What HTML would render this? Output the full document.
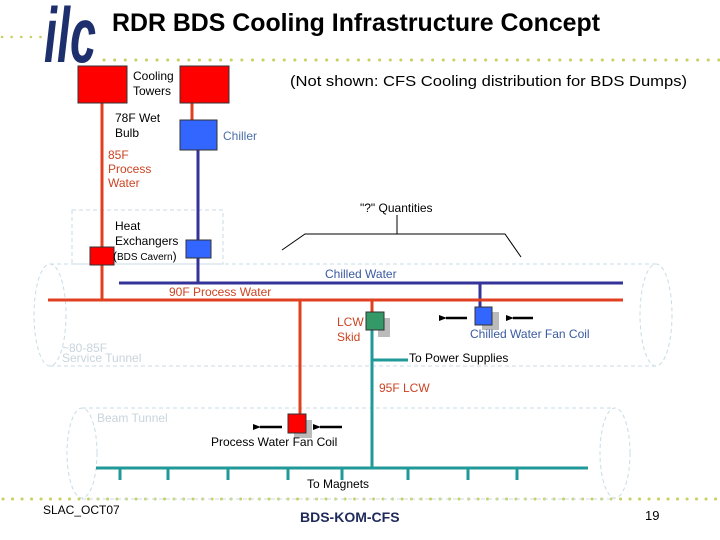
<!DOCTYPE html>
<html><head><meta charset="utf-8"><style>
html,body{margin:0;padding:0;background:#fff;}
svg{display:block;font-family:"Liberation Sans",Arial,sans-serif;}
</style></head><body>
<svg width="720" height="540" viewBox="0 0 720 540" xmlns="http://www.w3.org/2000/svg">
<defs>
<marker id="ah" markerWidth="8" markerHeight="8" refX="1" refY="4" orient="auto" markerUnits="userSpaceOnUse">
<path d="M8,1 L0,4 L8,7 Z" fill="#000"/></marker>
</defs>
<!-- dotted lines -->
<line x1="2" y1="37" x2="48" y2="37" stroke="#c8d060" stroke-width="2.5" stroke-dasharray="0.1 9.5" stroke-linecap="round"/>
<line x1="104" y1="60" x2="720" y2="60" stroke="#c8d060" stroke-width="3" stroke-dasharray="0.1 10.5" stroke-linecap="round"/>
<line x1="3" y1="499" x2="720" y2="499" stroke="#c8d060" stroke-width="3" stroke-dasharray="0.1 9.4" stroke-linecap="round"/>
<!-- logo -->
<text x="0" y="0" font-size="58" font-weight="bold" font-style="italic" fill="#1e2f6e" transform="translate(44,62) scale(1,1.35)" textLength="52" lengthAdjust="spacingAndGlyphs">ilc</text>
<text x="112" y="31" font-size="25" font-weight="bold" fill="#000" textLength="488" lengthAdjust="spacingAndGlyphs">RDR BDS Cooling Infrastructure Concept</text>
<text x="290" y="86" font-size="15" fill="#000" textLength="397" lengthAdjust="spacingAndGlyphs">(Not shown: CFS Cooling distribution for BDS Dumps)</text>

<!-- cylinders -->
<g fill="none" stroke="#c8dce6" stroke-width="1" stroke-dasharray="4 3">
<path d="M50,264 L656,264 M50,366 L656,366"/>
<ellipse cx="50" cy="315" rx="16" ry="51"/>
<ellipse cx="656" cy="315" rx="16" ry="51"/>
<path d="M82,408 L615,408 M82,499 L615,499"/>
<ellipse cx="82" cy="453" rx="15" ry="45"/>
<ellipse cx="615" cy="453" rx="15" ry="45"/>
<rect x="72" y="210" width="151" height="54"/>
</g>

<!-- pipes -->
<line x1="102" y1="103" x2="102" y2="300" stroke="#e04020" stroke-width="3"/>
<line x1="192" y1="103" x2="192" y2="120" stroke="#e04020" stroke-width="3"/>
<line x1="198" y1="150" x2="198" y2="283" stroke="#333399" stroke-width="3"/>
<line x1="119" y1="283" x2="623" y2="283" stroke="#333399" stroke-width="3"/>
<line x1="480" y1="283" x2="480" y2="307" stroke="#333399" stroke-width="3"/>
<line x1="48" y1="300" x2="623" y2="300" stroke="#e04020" stroke-width="3"/>
<line x1="300" y1="300" x2="300" y2="414" stroke="#e04020" stroke-width="3"/>
<line x1="372" y1="300" x2="372" y2="312" stroke="#e04020" stroke-width="3"/>
<g stroke="#229999" stroke-width="3">
<line x1="372" y1="330" x2="372" y2="468"/>
<line x1="372" y1="360" x2="408" y2="360"/>
<line x1="96" y1="468" x2="588" y2="468"/>
<path d="M120,468v12 M168,468v12 M228,468v12 M288,468v12 M342,468v12 M408,468v12 M468,468v12 M517,468v12"/>
</g>

<!-- boxes -->
<rect x="78" y="66" width="49" height="37" fill="#ff0000" stroke="#333" stroke-width="1"/>
<rect x="180" y="66" width="49" height="37" fill="#ff0000" stroke="#333" stroke-width="1"/>
<rect x="180" y="120" width="37" height="30" fill="#3366ff" stroke="#333" stroke-width="1"/>
<rect x="90" y="247" width="24" height="18" fill="#ff0000" stroke="#333" stroke-width="1"/>
<rect x="186" y="240" width="25" height="18" fill="#3366ff" stroke="#333" stroke-width="1"/>
<rect x="378" y="318" width="12" height="19" fill="#bbb"/>
<rect x="366" y="312" width="18" height="18" fill="#339966" stroke="#333" stroke-width="1"/>
<rect x="482" y="312" width="17" height="18" fill="#bbb"/>
<rect x="475" y="307" width="17" height="18" fill="#3366ff" stroke="#333" stroke-width="1"/>
<rect x="294" y="420" width="18" height="18" fill="#bbb"/>
<rect x="288" y="414" width="18" height="19" fill="#ff0000" stroke="#333" stroke-width="1"/>

<!-- arrows -->
<g stroke="#000" stroke-width="2.5">
<line x1="467" y1="318" x2="446" y2="318" marker-end="url(#ah)"/>
<line x1="533" y1="318" x2="513" y2="318" marker-end="url(#ah)"/>
<line x1="282" y1="427" x2="260" y2="427" marker-end="url(#ah)"/>
<line x1="342" y1="427" x2="320" y2="427" marker-end="url(#ah)"/>
</g>
<!-- bracket -->
<path d="M397,215 V234 M282,250 L305,234 H505 L521,257" fill="none" stroke="#000" stroke-width="1"/>

<!-- labels -->
<g font-size="12" fill="#000">
<text x="133" y="80">Cooling</text><text x="133" y="95">Towers</text>
<text x="115" y="122">78F Wet</text><text x="115" y="137">Bulb</text>
<text x="223" y="140" fill="#4a70a8">Chiller</text>
<g fill="#cc4422"><text x="108" y="159">85F</text><text x="108" y="173">Process</text><text x="108" y="187">Water</text></g>
<text x="360" y="212">"?" Quantities</text>
<text x="115" y="230">Heat</text><text x="115" y="245">Exchangers</text>
<text x="113" y="260">(<tspan font-size="10">BDS Cavern</tspan>)</text>
<text x="325" y="278" fill="#3a5aa0">Chilled Water</text>
<text x="169" y="296" fill="#cc4422">90F Process Water</text>
<text x="337" y="326" fill="#cc4422">LCW</text><text x="337" y="341" fill="#cc4422">Skid</text>
<text x="470" y="338" fill="#3a5aa0">Chilled Water Fan Coil</text>
<text x="62" y="352" fill="#c8d4dc">~80-85F</text><text x="62" y="362" fill="#c8d4dc">Service Tunnel</text>
<text x="409" y="362">To Power Supplies</text>
<text x="379" y="392" fill="#cc4422">95F LCW</text>
<text x="97" y="422" fill="#c8d4dc">Beam Tunnel</text>
<text x="211" y="446">Process Water Fan Coil</text>
<text x="307" y="488">To Magnets</text>
<text x="43" y="514">SLAC_OCT07</text>
<text x="645" y="520" font-size="13">19</text>
</g>
<text x="300" y="522" font-size="14" font-weight="bold" fill="#1f2a5a">BDS-KOM-CFS</text>
</svg>
</body></html>
